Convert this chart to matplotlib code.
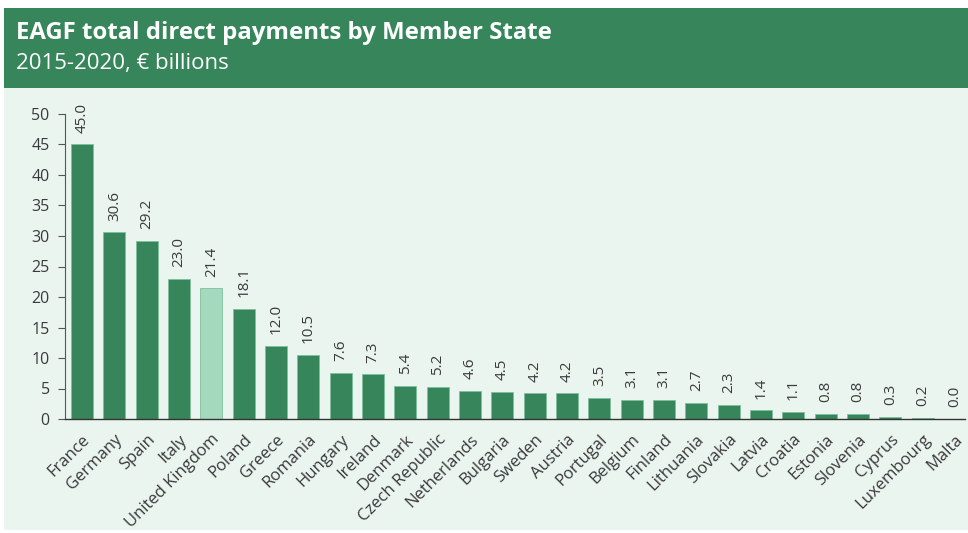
import matplotlib.pyplot as plt
from matplotlib.patches import Rectangle

plt.rcParams['font.family'] = ['Open Sans', 'DejaVu Sans']

countries = ['France', 'Germany', 'Spain', 'Italy', 'United Kingdom', 'Poland',
             'Greece', 'Romania', 'Hungary', 'Ireland', 'Denmark', 'Czech Republic',
             'Netherlands', 'Bulgaria', 'Sweden', 'Austria', 'Portugal', 'Belgium',
             'Finland', 'Lithuania', 'Slovakia', 'Latvia', 'Croatia', 'Estonia',
             'Slovenia', 'Cyprus', 'Luxembourg', 'Malta']
payments = [45.0, 30.6, 29.2, 23.0, 21.4, 18.1, 12.0, 10.5, 7.6, 7.3, 5.4, 5.2,
            4.6, 4.5, 4.2, 4.2, 3.5, 3.1, 3.1, 2.7, 2.3, 1.4, 1.1, 0.8, 0.8,
            0.3, 0.2, 0.0]
highlight = 'United Kingdom'

dark_green = '#37865b'
light_green = '#a5d9be'
panel_bg = '#ebf5f0'
text_col = '#3a3a3a'

W, H = 968, 533
fig = plt.figure(figsize=(W / 100, H / 100), dpi=100)
fig.patch.set_facecolor('white')

# background panel and header band
fig.patches.append(Rectangle((4 / W, 3 / H), 1 - 4 / W, (H - 88 - 3) / H,
                             transform=fig.transFigure, facecolor=panel_bg,
                             edgecolor='none', zorder=-5))
fig.patches.append(Rectangle((4 / W, (H - 88) / H), 1 - 4 / W, 80 / H,
                             transform=fig.transFigure, facecolor=dark_green,
                             edgecolor='none', zorder=-5))
fig.text(16 / W, 1 - 33 / H, 'EAGF total direct payments by Member State',
         color='white', fontsize=17.3, fontweight='bold', va='center')
fig.text(16 / W, 1 - 63 / H, '2015-2020, € billions',
         color='white', fontsize=16, va='center')

ax = fig.add_axes([65 / W, (H - 419) / H, 900 / W, 305 / H])
ax.set_facecolor('none')
ax.set_zorder(2)

x = list(range(len(countries)))
colors = [light_green if c == highlight else dark_green for c in countries]
bars = ax.bar(x, payments, width=0.68, color=colors, edgecolor='#7fbf9c',
              linewidth=0.6, zorder=2)

for xi, v in zip(x, payments):
    ax.annotate(f'{v:.1f}', (xi, v), xytext=(0, 8.5), textcoords='offset points',
                rotation=90, ha='center', va='bottom', fontsize=11,
                color=text_col, annotation_clip=False)

ax.set_xlim(-0.53, 27.31)
ax.set_ylim(0, 50)
ax.set_yticks(range(0, 51, 5))
ax.set_xticks(x)
ax.set_xticklabels(countries, rotation=45, ha='right', rotation_mode='anchor',
                   fontsize=12, color=text_col)
ax.tick_params(axis='x', length=0, pad=9)
ax.tick_params(axis='y', length=5, color='#555555', labelsize=11.5,
               labelcolor=text_col, pad=6)

for s in ['top', 'right']:
    ax.spines[s].set_visible(False)
ax.spines['left'].set_color('#555555')
ax.spines['left'].set_linewidth(0.8)
ax.spines['bottom'].set_color('#333333')
ax.spines['bottom'].set_linewidth(1.0)

fig.savefig('out.png', dpi=100, facecolor=fig.get_facecolor())
